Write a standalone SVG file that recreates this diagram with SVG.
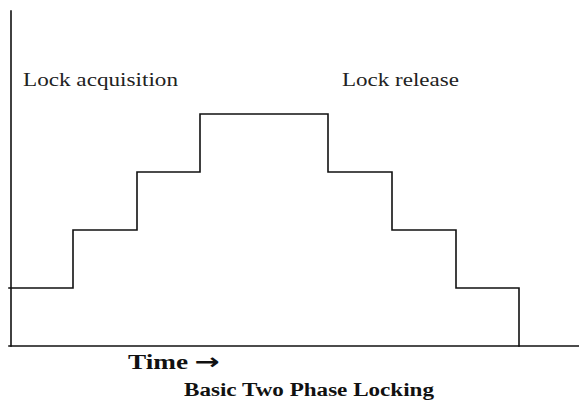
<svg xmlns="http://www.w3.org/2000/svg" width="579" height="407" viewBox="0 0 579 407">
<style>
.ln{fill:none;stroke:#111;stroke-width:1.6;stroke-linecap:square;stroke-linejoin:miter}
.lb{font-family:"Liberation Serif","Times New Roman",serif;font-size:18px;fill:#222}
.tt{font-family:"Liberation Serif","Times New Roman",serif;font-weight:bold;fill:#111}
.ar{font-family:"DejaVu Sans",sans-serif;font-weight:bold}
</style>
<rect width="579" height="407" fill="#fff"/>
<g id="axes">
<line class="ln" x1="11" y1="11" x2="11" y2="346"/>
<line class="ln" x1="9" y1="346" x2="579" y2="346"/>
</g>
<g id="steps">
<polyline class="ln" points="9,288 73,288 73,230 137,230 137,172 200,172 200,114 328,114 328,172 392,172 392,230 456,230 456,288 519,288 519,346"/>
</g>
<g id="labels">
<text class="lb" x="23" y="86" textLength="155" lengthAdjust="spacingAndGlyphs">Lock acquisition</text>
<text class="lb" x="342" y="86" textLength="117" lengthAdjust="spacingAndGlyphs">Lock release</text>
<text class="tt" x="128" y="369" font-size="20" textLength="92" lengthAdjust="spacingAndGlyphs">Time <tspan class="ar" font-size="22">→</tspan></text>
<text class="tt" x="184" y="396" font-size="18" textLength="250" lengthAdjust="spacingAndGlyphs">Basic Two Phase Locking</text>
</g>
</svg>
